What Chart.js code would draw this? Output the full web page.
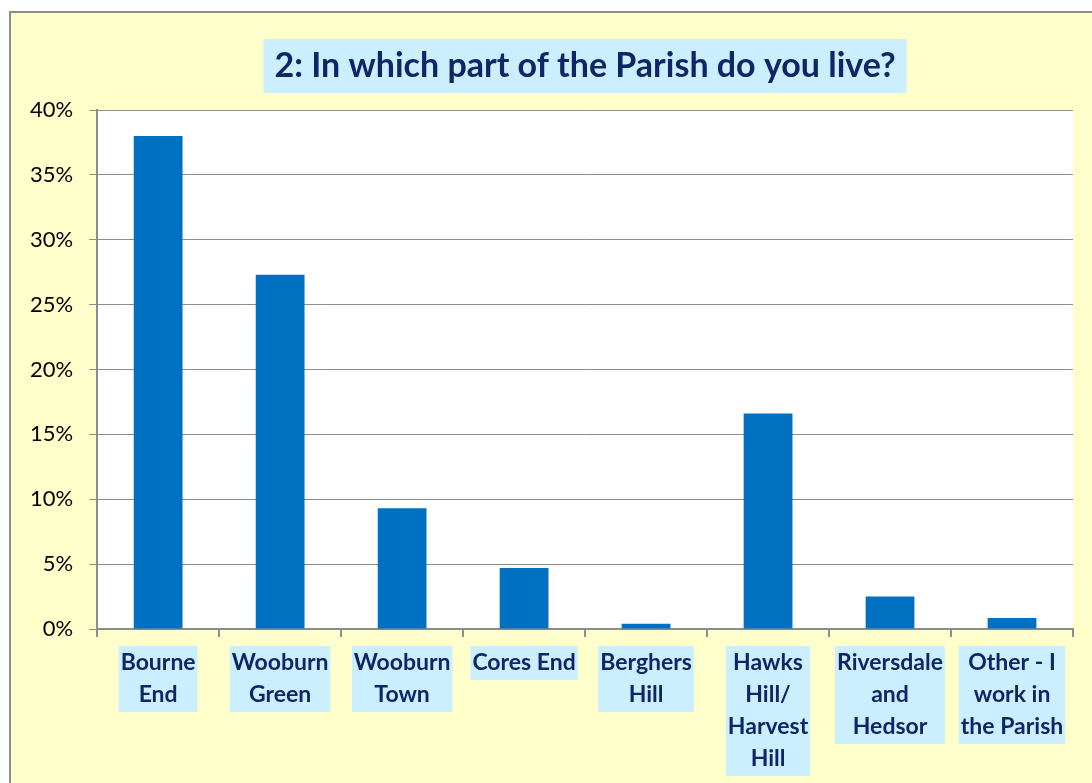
<!DOCTYPE html>
<html>
<head>
<meta charset="utf-8">
<script src="https://cdn.jsdelivr.net/npm/chart.js@4"></script>
<style>
body{margin:0;background:#fff;}
canvas{display:block;}
</style>
</head>
<body>
<canvas id="parishChart" width="1092" height="783"></canvas>
<script>
// ==========================
// Data
// ==========================

const areaLabels=[
["Bourne","End"],
["Wooburn","Green"],
["Wooburn","Town"],
["Cores End"],
["Berghers","Hill"],
["Hawks","Hill/","Harvest","Hill"],
["Riversdale","and","Hedsor"],
["Other - I","work in","the Parish"]
];

const areaShare=[38.0,27.3,9.3,4.7,0.4,16.6,2.5,0.85];

const yTicks=[0,5,10,15,20,25,30,35,40];

const chartTitle="2: In which part of the Parish do you live?";

const labelFont={family:"Lato",size:23,weight:"bold",lineHeight:"32px"};
const tickLen=8;
const labelPad=10;

// ==========================
// Background, frame, label boxes
// ==========================

const frameBg={
id:"frameBg",
beforeDraw(chart){
const ctx=chart.ctx;
const a=chart.chartArea;
ctx.save();
ctx.fillStyle="#ffffff";
ctx.fillRect(0,0,chart.width,chart.height);
ctx.fillStyle="#FFFFCC";
ctx.fillRect(10,12,chart.width,chart.height);
ctx.strokeStyle="#8c8c8c";
ctx.lineWidth=2;
ctx.strokeRect(10,12,chart.width+10,chart.height+10);
ctx.fillStyle="#ffffff";
ctx.fillRect(a.left,a.top,a.right-a.left,a.bottom-a.top);

// light blue box behind the title
const t=chart.titleBlock;
if(t){
const o=chart.options.plugins.title;
ctx.font="bold "+o.font.size+"px "+o.font.family;
const w=ctx.measureText(chartTitle).width+22;
const cx=t.left+t.width/2;
ctx.fillStyle="#CCEFFF";
ctx.fillRect(cx-w/2,t.top,w,54);
}

// light blue boxes behind category labels
const xs=chart.scales.x;
ctx.font="bold "+labelFont.size+"px "+labelFont.family;
ctx.fillStyle="#CCEFFF";
areaLabels.forEach((lines,i)=>{
const px=xs.getPixelForTick(i);
let w=0;
lines.forEach(s=>{w=Math.max(w,ctx.measureText(s).width);});
const top=xs.top+tickLen+labelPad-1;
ctx.fillRect(px-w/2-2,top,w+4,lines.length*32+2);
});
ctx.restore();
}
};

new Chart(document.getElementById("parishChart"),{

type:"bar",

data:{
labels:areaLabels,
datasets:[{
data:areaShare,
backgroundColor:"#0070C0",
borderWidth:0,
categoryPercentage:1,
barPercentage:0.4
}]
},

options:{
responsive:false,
animation:false,
layout:{padding:{top:39,left:14,right:19,bottom:-2}},
plugins:{
legend:{display:false},
tooltip:{enabled:false},
title:{
display:true,
text:chartTitle,
fullSize:false,
color:"#0F2566",
font:{family:"Lato",size:34,weight:"bold",lineHeight:"54px"},
padding:{top:0,bottom:17}
}
},
scales:{
x:{
border:{color:"#8c8c8c",width:2},
grid:{drawOnChartArea:false,drawTicks:true,tickLength:tickLen,color:"#8c8c8c",lineWidth:2},
ticks:{
color:"#0F2566",
font:labelFont,
maxRotation:0,
minRotation:0,
autoSkip:false,
padding:labelPad
}
},
y:{
min:0,
max:40,
border:{color:"#8c8c8c",width:2},
grid:{color:"#8c8c8c",lineWidth:1,tickLength:tickLen},
afterBuildTicks(axis){
axis.ticks=yTicks.map(v=>({value:v}));
},
ticks:{
color:"#000000",
font:{family:"Lato",size:22},
padding:16,
callback:v=>v+"%"
}
}
}
},

plugins:[frameBg]

});
</script>
</body>
</html>
